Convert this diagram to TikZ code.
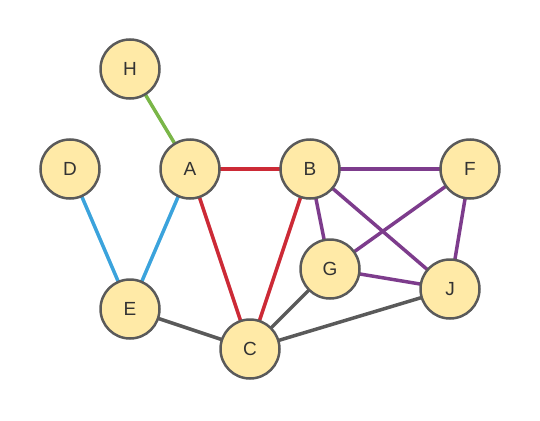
\documentclass[tikz,border=0pt]{standalone}
\usepackage{fontspec}
\setmainfont{Liberation Sans}
\usetikzlibrary{backgrounds}
\definecolor{nodefill}{HTML}{FFEAA7}
\definecolor{nodeline}{HTML}{5A5A5A}
\definecolor{txt}{HTML}{333333}
\definecolor{ered}{HTML}{CC2A36}
\definecolor{epurple}{HTML}{7D3C8C}
\definecolor{eblue}{HTML}{3BA3DC}
\definecolor{egreen}{HTML}{7AB648}
\definecolor{egray}{HTML}{5A5A5A}
\tikzset{
  vtx/.style={circle, draw=nodeline, fill=nodefill, line width=2.5pt, minimum size=59pt, inner sep=0pt, text=txt, font=\fontsize{19}{21}\selectfont},
  edge/.style={line width=3.5pt}
}
\begin{document}
\begin{tikzpicture}[x=1pt,y=-1pt]
\useasboundingbox (0,0) rectangle (540,420);
\node[vtx] (H) at (130,69) {H};
\node[vtx] (D) at (70,169) {D};
\node[vtx] (A) at (190,169) {A};
\node[vtx] (B) at (310,169) {B};
\node[vtx] (F) at (470,169) {F};
\node[vtx] (G) at (330,269) {G};
\node[vtx] (J) at (450,289) {J};
\node[vtx] (E) at (130,309) {E};
\node[vtx] (C) at (250,349) {C};
\begin{scope}[on background layer]
\draw[edge, egreen] (H.center) -- (A.center);
\draw[edge, eblue] (D.center) -- (E.center);
\draw[edge, eblue] (A.center) -- (E.center);
\draw[edge, ered] (A.center) -- (B.center);
\draw[edge, ered] (A.center) -- (C.center);
\draw[edge, ered] (B.center) -- (C.center);
\draw[edge, epurple] (B.center) -- (F.center);
\draw[edge, epurple] (B.center) -- (G.center);
\draw[edge, epurple] (B.center) -- (J.center);
\draw[edge, epurple] (F.center) -- (G.center);
\draw[edge, epurple] (F.center) -- (J.center);
\draw[edge, epurple] (G.center) -- (J.center);
\draw[edge, egray] (E.center) -- (C.center);
\draw[edge, egray] (G.center) -- (C.center);
\draw[edge, egray] (C.center) -- (J.center);
\end{scope}
\end{tikzpicture}
\end{document}
